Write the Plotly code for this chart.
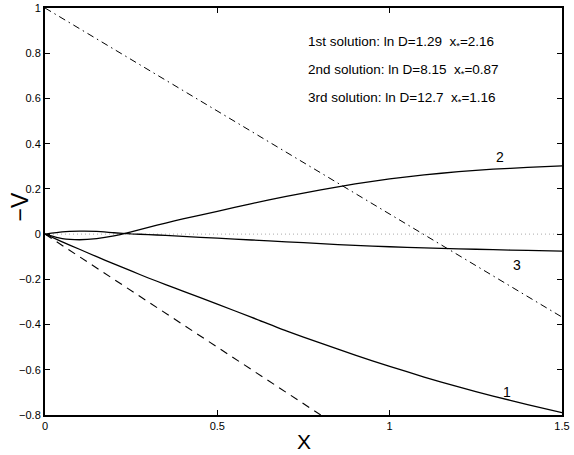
import plotly.graph_objects as go

# ---- data ----
x_grid = [0, 0.05, 0.1, 0.15, 0.2, 0.25, 0.3, 0.35, 0.4, 0.5, 0.6, 0.7, 0.8, 0.9, 1.0, 1.1, 1.2, 1.3, 1.4, 1.5]
sol1 = [0, -0.034, -0.067, -0.100, -0.132, -0.163, -0.194, -0.223, -0.252, -0.310, -0.368, -0.428, -0.482, -0.535,
        -0.585, -0.632, -0.676, -0.716, -0.754, -0.79]
sol2 = [0, -0.020, -0.025, -0.020, -0.008, 0.010, 0.030, 0.049, 0.067, 0.101, 0.135, 0.167, 0.196, 0.222,
        0.244, 0.262, 0.276, 0.287, 0.295, 0.302]
sol3 = [0, 0.010, 0.013, 0.012, 0.006, 0.001, -0.002, -0.006, -0.010, -0.018, -0.026, -0.034, -0.042, -0.050,
        -0.056, -0.061, -0.065, -0.069, -0.072, -0.075]
dashdot_x = [0, 1.5]
dashdot_y = [1.0, -0.367]
dash_x = [0, 0.8]
dash_y = [0, -0.8]
zero_x = [0, 1.5]
zero_y = [0, 0]

x_ticks = [0, 0.5, 1, 1.5]
x_ticklabels = ["0", "0.5", "1", "1.5"]
y_ticks = [-0.8, -0.6, -0.4, -0.2, 0, 0.2, 0.4, 0.6, 0.8, 1]
y_ticklabels = ["−0.8", "−0.6", "−0.4", "−0.2", "0", "0.2", "0.4", "0.6", "0.8", "1"]

curve_labels = ["1", "2", "3"]
curve_label_x = [1.339, 1.32, 1.368]
curve_label_y = [-0.70, 0.34, -0.137]

info_lines = [
    "1st solution: ln D=1.29  x<sub>*</sub>=2.16",
    "2nd solution: ln D=8.15  x<sub>*</sub>=0.87",
    "3rd solution: ln D=12.7  x<sub>*</sub>=1.16",
]
info_y = [0.846, 0.722, 0.600]
info_x = 0.758

x_title = "X"
y_title = "−V"

FONT = "Liberation Sans, Arial, Helvetica, sans-serif"

fig = go.Figure()
fig.add_trace(go.Scatter(x=zero_x, y=zero_y, mode="lines",
                         line=dict(color="#aaaaaa", width=1, dash="1px,3px"), showlegend=False))
fig.add_trace(go.Scatter(x=dashdot_x, y=dashdot_y, mode="lines",
                         line=dict(color="black", width=1, dash="7px,4px,1.5px,4px"), showlegend=False))
fig.add_trace(go.Scatter(x=dash_x, y=dash_y, mode="lines",
                         line=dict(color="black", width=1.1, dash="8px,6px"), showlegend=False))
for ys in (sol1, sol2, sol3):
    fig.add_trace(go.Scatter(x=x_grid, y=ys, mode="lines",
                             line=dict(color="black", width=1.3, shape="spline", smoothing=0.5),
                             showlegend=False))

annotations = []
for t, xx, yy in zip(curve_labels, curve_label_x, curve_label_y):
    annotations.append(dict(x=xx, y=yy, text=t, showarrow=False, xref="x", yref="y",
                            font=dict(family=FONT, size=14, color="black")))
for t, yy in zip(info_lines, info_y):
    annotations.append(dict(x=info_x, y=yy, text=t, showarrow=False, xref="x", yref="y",
                            xanchor="left", yanchor="middle",
                            font=dict(family=FONT, size=13.5, color="black")))
# axis titles
annotations.append(dict(x=0.5, y=0, xref="paper", yref="paper", text=x_title, showarrow=False,
                        xanchor="center", yanchor="middle", yshift=-26, borderpad=0,
                        font=dict(family=FONT, size=21, color="black")))
annotations.append(dict(x=0, y=0.51, xref="paper", yref="paper", text=y_title, showarrow=False,
                        xanchor="center", yanchor="middle", xshift=-25, textangle=-90, borderpad=0,
                        font=dict(family=FONT, size=23, color="black")))

fig.update_layout(
    width=574, height=455,
    margin=dict(l=45, r=12, t=8, b=40, autoexpand=False),
    paper_bgcolor="white", plot_bgcolor="white",
    font=dict(family=FONT, size=11, color="black"),
    annotations=annotations,
    xaxis=dict(range=[0, 1.5], tickvals=x_ticks, ticktext=x_ticklabels, ticks="inside", ticklen=5,
               tickcolor="black", showline=True, linecolor="black", linewidth=2, mirror="ticks",
               showgrid=False, zeroline=False, tickfont=dict(size=11)),
    yaxis=dict(range=[-0.8, 1], tickvals=y_ticks, ticktext=y_ticklabels, ticks="inside", ticklen=5,
               tickcolor="black", showline=True, linecolor="black", linewidth=2, mirror="ticks",
               showgrid=False, zeroline=False, tickfont=dict(size=11)),
)

fig.write_html("out.html")
